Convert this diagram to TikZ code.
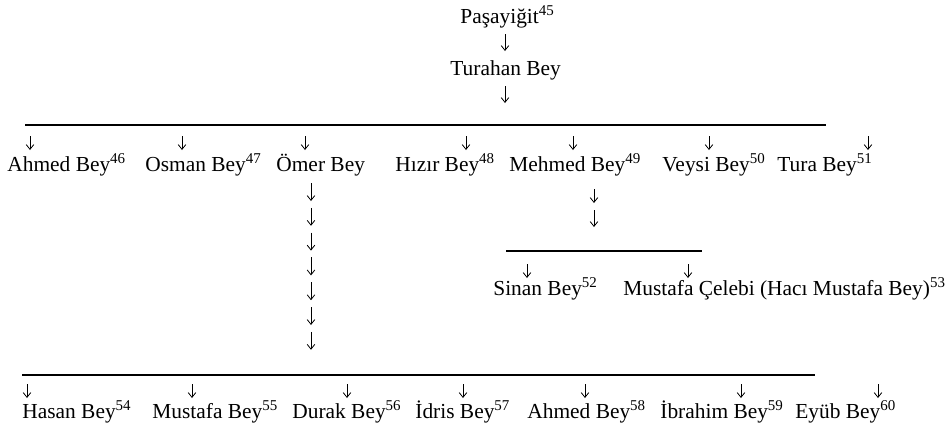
\documentclass[tikz,border=0pt]{standalone}
\usepackage{fontspec}
\setmainfont{Liberation Serif}
\usetikzlibrary{arrows.meta,positioning}
\tikzset{
  person/.style={anchor=base west, inner sep=0pt, font=\fontsize{10.7}{12}\selectfont},
  dn/.style={-{Straight Barb[length=2.4pt,width=3.8pt]}, line width=0.4pt},
  bar/.style={line width=0.7pt}
}
\begin{document}
\begin{tikzpicture}[x=0.5pt, y=-0.5pt]
  \useasboundingbox (0,0) rectangle (950,430);
  % top of the line
  \node[person] (pasa) at (460,23) {Paşayiğit\textsuperscript{45}};
  \draw[dn] (505,34) -- (505,51);
  \node[person] (turahan) at (450,75) {Turahan Bey};
  \draw[dn] (505,86) -- (505,103);
  \draw[bar] (25,125) -- (826,125);

  % sons of Turahan Bey
  \foreach \x in {30,182,305,466,573,709,868}
    \draw[dn] (\x,136) -- (\x,150);
  \node[person] (ahmed1) at (7,171) {Ahmed Bey\textsuperscript{46}};
  \node[person] (osman) at (145,171) {Osman Bey\textsuperscript{47}};
  \node[person] (omer) at (276,171) {Ömer Bey};
  \node[person] (hizir) at (395,171) {Hızır Bey\textsuperscript{48}};
  \node[person] (mehmed) at (509,171) {Mehmed Bey\textsuperscript{49}};
  \node[person] (veysi) at (662,171) {Veysi Bey\textsuperscript{50}};
  \node[person] (tura) at (777,171) {Tura Bey\textsuperscript{51}};

  % descent from Ömer Bey
  \foreach \i in {0,...,6}
    \draw[dn] (311,{183+24.8*\i}) -- ++(0,18);

  % sons of Mehmed Bey
  \draw[dn] (594,189) -- ++(0,14);
  \draw[dn] (594,210) -- ++(0,17);
  \draw[bar] (506,251) -- (702,251);
  \draw[dn] (527,264) -- ++(0,14);
  \draw[dn] (688,264) -- ++(0,14);
  \node[person] (sinan) at (493,295) {Sinan Bey\textsuperscript{52}};
  \node[person] (mustafac) at (623,295) {Mustafa Çelebi (Hacı Mustafa Bey)\textsuperscript{53}};

  % last generation
  \draw[bar] (22,375) -- (815,375);
  \foreach \x in {27,192,347,463,585,741,878}
    \draw[dn] (\x,384) -- (\x,398);
  \node[person] (hasan) at (22,418) {Hasan Bey\textsuperscript{54}};
  \node[person] (mustafa) at (152,418) {Mustafa Bey\textsuperscript{55}};
  \node[person] (durak) at (292,418) {Durak Bey\textsuperscript{56}};
  \node[person] (idris) at (415,418) {İdris Bey\textsuperscript{57}};
  \node[person] (ahmed2) at (527,418) {Ahmed Bey\textsuperscript{58}};
  \node[person] (ibrahim) at (660,418) {İbrahim Bey\textsuperscript{59}};
  \node[person] (eyub) at (795,418) {Eyüb Bey\textsuperscript{60}};
\end{tikzpicture}
\end{document}
